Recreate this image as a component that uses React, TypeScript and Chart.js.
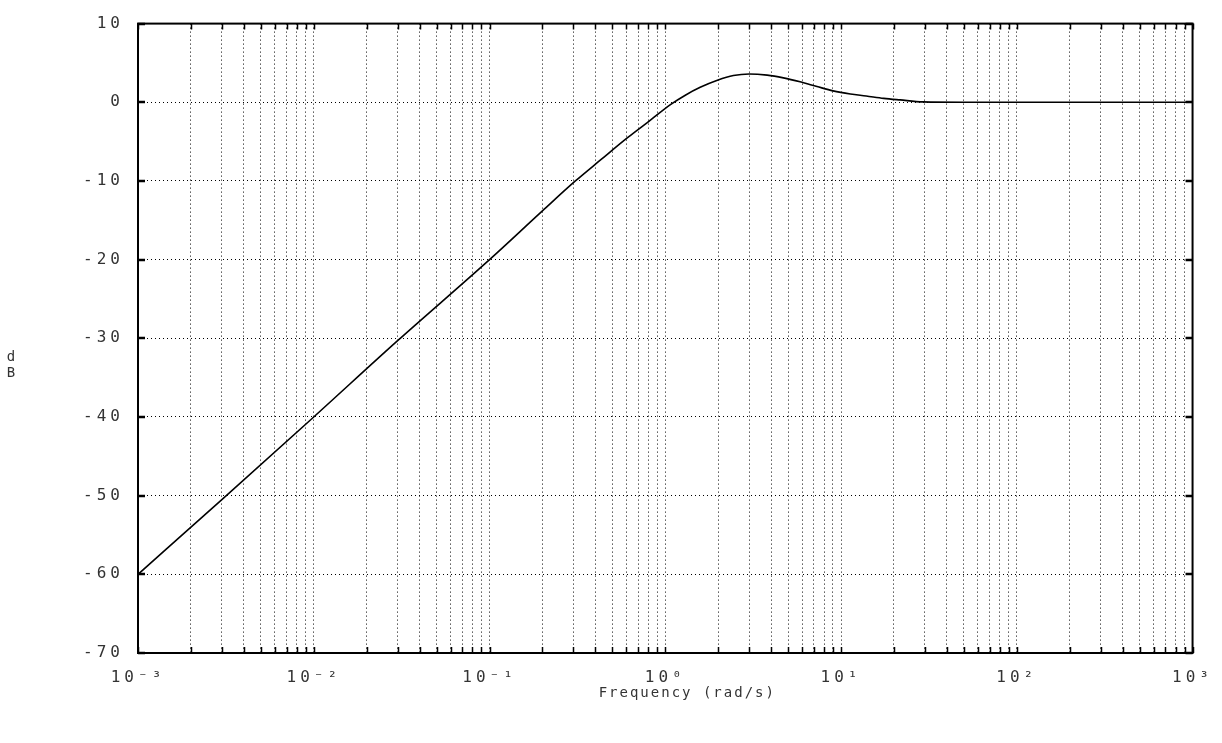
import React, { useEffect, useRef } from "react";
import { Chart, registerables } from "chart.js";
Chart.register(...registerables);

const frequencies = [0.001, 0.003, 0.01, 0.03, 0.1, 0.2, 0.308, 0.43, 0.61, 0.82, 1.07, 1.3, 1.58, 1.98, 2.44, 3.0, 3.8, 4.7, 5.85, 7.3, 9.0, 11.3, 13.9, 17.5, 21.7, 29.3, 50, 100, 1000];
const magnitudeDb = [-60, -50.5, -40, -30.3, -20, -13.8, -10, -7.3, -4.5, -2.3, -0.3, 0.9, 1.9, 2.8, 3.4, 3.6, 3.45, 3.1, 2.6, 2.0, 1.45, 1.05, 0.8, 0.5, 0.3, 0.05, 0, 0, 0];

const yTickValues = [10, 0, -10, -20, -30, -40, -50, -60, -70];
const decadeExponents = [-3, -2, -1, 0, 1, 2, 3];
const decadeLabels = ["10\u207B\u00B3", "10\u207B\u00B2", "10\u207B\u00B9", "10\u2070", "10\u00B9", "10\u00B2", "10\u00B3"];
const xTitle = "Frequency (rad/s)";
const yTitleLetters = ["d", "B"];

const TEXT = "#333";
const FONT = "'DejaVu Sans Mono', monospace";

export default function App() {
  const ref = useRef<HTMLCanvasElement | null>(null);
  useEffect(() => {
    if (!ref.current) return;
    const xTickValues: number[] = [];
    decadeExponents.forEach((e, i) => {
      if (i === decadeExponents.length - 1) { xTickValues.push(Math.pow(10, e)); return; }
      for (let k = 1; k <= 9; k++) xTickValues.push(k * Math.pow(10, e));
    });
    const labelFor = (v: number) => {
      const e = Math.log10(v);
      const idx = decadeExponents.findIndex((d) => Math.abs(d - e) < 1e-6);
      return idx >= 0 ? decadeLabels[idx] : "";
    };

    const framePlugin = {
      id: "frame",
      beforeDraw(chart: any) {
        (chart.ctx as any).letterSpacing = "4px";
      },
      afterDraw(chart: any) {
        const { ctx, chartArea: a, scales } = chart;
        ctx.save();
        (ctx as any).letterSpacing = "0px";
        ctx.strokeStyle = "#000";
        ctx.lineWidth = 1.5;
        xTickValues.forEach((v) => {
          const x = Math.round(scales.x.getPixelForValue(v)) + 0.5;
          ctx.beginPath();
          ctx.moveTo(x, a.top); ctx.lineTo(x, a.top + 6);
          ctx.moveTo(x, a.bottom); ctx.lineTo(x, a.bottom - 6);
          ctx.stroke();
        });
        ctx.lineWidth = 2.5;
        yTickValues.forEach((v) => {
          const y = Math.round(scales.y.getPixelForValue(v));
          ctx.beginPath();
          ctx.moveTo(a.left, y); ctx.lineTo(a.left + 7, y);
          ctx.moveTo(a.right, y); ctx.lineTo(a.right - 7, y);
          ctx.stroke();
        });
        ctx.lineWidth = 2;
        ctx.strokeRect(a.left, a.top, a.right - a.left, a.bottom - a.top);
        ctx.fillStyle = TEXT;
        ctx.font = `14px ${FONT}`;
        ctx.textAlign = "center";
        ctx.textBaseline = "middle";
        (ctx as any).letterSpacing = "2px";
        ctx.fillText(xTitle, (a.left + a.right) / 2 + 22, a.bottom + 40);
        (ctx as any).letterSpacing = "0px";
        const cy = (a.top + a.bottom) / 2;
        ctx.fillText(yTitleLetters[0], 11, cy + 19);
        ctx.fillText(yTitleLetters[1], 11, cy + 35);
        ctx.restore();
      },
    };

    const chart = new Chart(ref.current, {
      type: "line",
      data: {
        datasets: [
          {
            data: frequencies.map((f, i) => ({ x: f, y: magnitudeDb[i] })),
            borderColor: "#000",
            borderWidth: 1.6,
            pointRadius: 0,
            cubicInterpolationMode: "monotone",
            fill: false,
          },
        ],
      },
      options: {
        animation: false,
        responsive: false,
        maintainAspectRatio: false,
        layout: { padding: { left: 0, right: 29, top: 23, bottom: 0 } },
        plugins: { legend: { display: false }, tooltip: { enabled: false } },
        scales: {
          x: {
            type: "logarithmic",
            min: 0.001,
            max: 1000,
            afterBuildTicks: (s: any) => { s.ticks = xTickValues.map((v) => ({ value: v })); },
            afterFit: (s: any) => { s.height = 90; },
            grid: { color: "#000", lineWidth: 1, drawTicks: false },
            border: { display: true, color: "#000", width: 2, dash: [1, 3] },
            ticks: {
              autoSkip: false,
              maxRotation: 0,
              padding: 15,
              color: TEXT,
              font: { family: FONT, size: 16 },
              callback: (v: any) => labelFor(Number(v)),
            },
          },
          y: {
            min: -70,
            max: 10,
            afterBuildTicks: (s: any) => { s.ticks = yTickValues.map((v) => ({ value: v })); },
            afterFit: (s: any) => { s.width = 138; },
            grid: { color: "#000", lineWidth: 1, drawTicks: false },
            border: { display: true, color: "#000", width: 2, dash: [1, 3] },
            ticks: {
              padding: 14,
              color: TEXT,
              font: { family: FONT, size: 16 },
              callback: (v: any) => String(v),
            },
          },
        },
      },
      plugins: [framePlugin],
    } as any);
    return () => chart.destroy();
  }, []);
  return (
    <div style={{ position: "fixed", left: 0, top: 0, width: 1222, height: 743, background: "#fff" }}>
      <canvas ref={ref} width={1222} height={743} style={{ display: "block" }} />
    </div>
  );
}
